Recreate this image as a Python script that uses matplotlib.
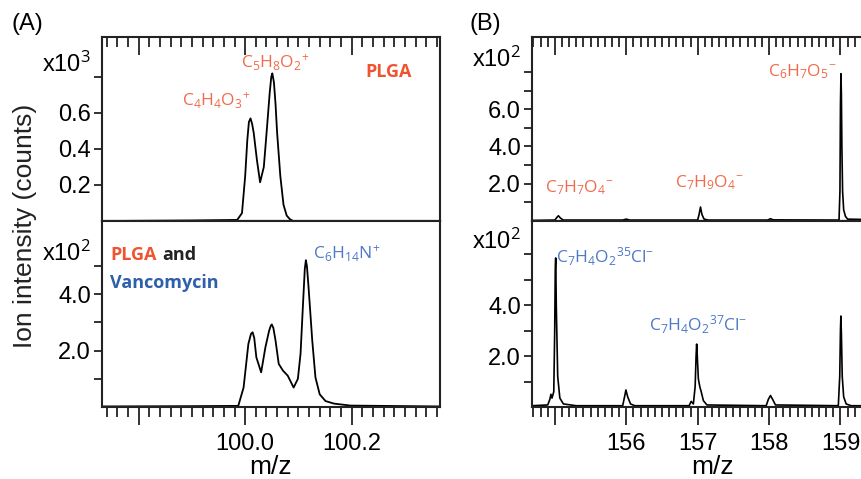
import numpy as np
import matplotlib
matplotlib.use("Agg")
import matplotlib.pyplot as plt
from matplotlib.ticker import FixedLocator, MultipleLocator, NullFormatter

plt.rcParams['font.family'] = ['Liberation Sans', 'DejaVu Sans']
plt.rcParams['mathtext.fontset'] = 'custom'
plt.rcParams['mathtext.rm'] = 'Open Sans'
plt.rcParams['mathtext.it'] = 'Open Sans:italic'
plt.rcParams['mathtext.bf'] = 'Open Sans:bold'

# ---- data ----
# (A) top: PLGA, intensity in x10^3 counts
mz_a_top = [99.731, 99.90, 99.985, 99.994, 100.000, 100.004, 100.007, 100.010,
            100.013, 100.016, 100.022, 100.028, 100.035, 100.041, 100.046,
            100.049, 100.051, 100.054, 100.057, 100.060, 100.066, 100.072,
            100.078, 100.084, 100.090, 100.366]
int_a_top = [0.0, 0.003, 0.006, 0.044, 0.25, 0.45, 0.55, 0.57,
             0.54, 0.49, 0.34, 0.215, 0.30, 0.52, 0.71,
             0.80, 0.82, 0.77, 0.65, 0.49, 0.25, 0.09,
             0.03, 0.01, 0.0, 0.0]

# (A) bottom: PLGA + vancomycin, intensity in x10^2 counts
mz_a_bot = [99.731, 99.90, 99.987, 99.997, 100.006, 100.011, 100.014, 100.017,
            100.021, 100.030, 100.038, 100.045, 100.048, 100.050, 100.053,
            100.057, 100.063, 100.071, 100.080, 100.091, 100.099, 100.104,
            100.109, 100.112, 100.114, 100.116, 100.119, 100.126, 100.132,
            100.140, 100.151, 100.167, 100.198, 100.366]
int_a_bot = [0.02, 0.03, 0.04, 0.69, 2.24, 2.60, 2.65, 2.45,
             1.76, 1.23, 2.12, 2.71, 2.88, 2.93, 2.80,
             2.36, 1.53, 1.29, 1.11, 0.69, 1.00, 1.89,
             3.79, 4.90, 5.21, 5.00, 4.26, 2.36, 1.05,
             0.45, 0.21, 0.12, 0.05, 0.02]

# (B) top: PLGA, intensity in x10^2 counts
mz_b_top = [154.68, 155.00, 155.03, 155.05, 155.08, 155.12, 155.95, 156.00,
            156.05, 157.00, 157.02, 157.04, 157.06, 157.09, 157.15, 157.98,
            158.02, 158.06, 158.98, 158.993, 159.000, 159.007, 159.013,
            159.02, 159.03, 159.045, 159.07, 159.10, 159.75]
int_b_top = [0.03, 0.05, 0.20, 0.28, 0.15, 0.05, 0.05, 0.10,
             0.05, 0.05, 0.35, 0.75, 0.35, 0.10, 0.05, 0.05,
             0.12, 0.06, 0.05, 1.6, 6.2, 7.9, 6.8,
             4.0, 1.6, 0.6, 0.25, 0.10, 0.05]

# (B) bottom: PLGA + vancomycin, intensity in x10^2 counts
mz_b_bot = [154.68, 154.90, 154.93, 154.945, 154.96, 154.985, 154.998, 155.006,
            155.012, 155.02, 155.04, 155.07, 155.12, 155.30, 155.95, 155.98,
            155.995, 156.02, 156.06, 156.12, 156.88, 156.91, 156.94, 156.965,
            156.978, 156.986, 156.995, 157.01, 157.03, 157.05, 157.08, 157.13,
            157.96, 157.99, 158.02, 158.05, 158.09, 158.97, 158.99, 159.000,
            159.006, 159.013, 159.025, 159.045, 159.08, 159.15, 159.75]
int_b_bot = [0.05, 0.08, 0.30, 0.50, 0.35, 0.60, 3.0, 5.4,
             5.85, 4.0, 1.2, 0.35, 0.12, 0.05, 0.05, 0.45,
             0.67, 0.40, 0.12, 0.05, 0.05, 0.22, 0.12, 0.80,
             2.0, 2.47, 2.0, 1.1, 0.80, 0.60, 0.25, 0.08,
             0.05, 0.30, 0.45, 0.30, 0.08, 0.05, 1.2, 3.0,
             3.57, 2.9, 1.2, 0.40, 0.12, 0.05, 0.05]

xt_a = [99.8, 100.0, 100.2]
xl_a = ['', '100.0', '100.2']
xt_b = [155, 156, 157, 158, 159]
xl_b = ['', '156', '157', '158', '159']

ORANGE = '#f26a4b'
RED = '#f0532f'
BLUE = '#4c78c6'
DBLUE = '#2d5fab'
ANN = 'Open Sans'
INK = '#222222'

fig = plt.figure(figsize=(8.62, 4.79), dpi=100)

W, H = 862.0, 479.0
def box(l, t, r, b):
    return [l / W, 1 - b / H, (r - l) / W, (b - t) / H]

ax_at = fig.add_axes(box(102, 37, 440, 221))
ax_ab = fig.add_axes(box(102, 221, 440, 407))
ax_bt = fig.add_axes(box(532, 37, 894, 221))
ax_bb = fig.add_axes(box(532, 221, 894, 407))


def xticks(axis, xt, xminor, direction):
    axis.xaxis.set_major_locator(FixedLocator(xt))
    axis.xaxis.set_minor_locator(MultipleLocator(xminor))
    axis.tick_params(axis='x', which='both', direction=direction,
                     width=1.3, color=INK, labelsize=17, pad=6)
    axis.tick_params(axis='x', which='major', length=13)
    axis.tick_params(axis='x', which='minor', length=7)


def style(ax, xlim, ylim, xt, xl, xminor, yt, yl, upper):
    ax.set_xlim(*xlim)
    ax.set_ylim(*ylim)
    for s in ax.spines.values():
        s.set_linewidth(1.5)
        s.set_color(INK)
    if upper:
        # inward ticks along the top, outward ticks below (into the panel beneath)
        xticks(ax, xt, xminor, 'in')
        ax.tick_params(axis='x', which='both', top=True, bottom=False,
                       labeltop=False, labelbottom=False)
        sec = ax.secondary_xaxis('bottom')
        xticks(sec, xt, xminor, 'out')
        sec.xaxis.set_major_formatter(NullFormatter())
        sec.spines['bottom'].set_linewidth(1.5)
        sec.spines['bottom'].set_color(INK)
    else:
        xticks(ax, xt, xminor, 'out')
        ax.set_xticklabels(xl)
        ax.tick_params(axis='x', which='both', top=False, bottom=True)
    ax.set_yticks(yt)
    ax.set_yticklabels(yl)
    ax.tick_params(axis='y', which='major', left=True, right=False, direction='out',
                   length=6, width=1.3, color=INK, labelsize=17, pad=2)
    for tk in ax.yaxis.get_major_ticks():
        if tk.label1.get_text().startswith('x10'):
            tk.label1.set_va('bottom')


ax_at.plot(mz_a_top, int_a_top, color='black', lw=1.3)
ax_ab.plot(mz_a_bot, int_a_bot, color='black', lw=1.3)
ax_bt.plot(mz_b_top, int_b_top, color='black', lw=1.2)
ax_bb.plot(mz_b_bot, int_b_bot, color='black', lw=1.2)

style(ax_at, (99.731, 100.366), (0, 1.022), xt_a, xl_a, 0.02,
      [0.2, 0.4, 0.6, 0.8], ['0.2', '0.4', '0.6', 'x10$^3$'], True)
style(ax_ab, (99.731, 100.366), (0, 6.6), xt_a, xl_a, 0.02,
      [1, 2, 3, 4, 5], ['', '2.0', '', '4.0', 'x10$^2$'], False)
style(ax_bt, (154.68, 159.75), (0, 9.87), xt_b, xl_b, 0.1,
      [1, 2, 3, 4, 5, 6, 7, 8], ['', '2.0', '', '4.0', '', '6.0', '', 'x10$^2$'], True)
style(ax_bb, (154.68, 159.75), (0, 7.3), xt_b, xl_b, 0.1,
      [1, 2, 3, 4, 5, 6], ['', '2.0', '', '4.0', '', 'x10$^2$'], False)

# annotations
fs = 12.5
ax_at.text(100.056, 0.883, r'C$_5$H$_8$O$_2$$^{\!+}$', color=ORANGE, fontsize=fs,
           family=ANN, ha='center', va='center')
ax_at.text(99.946, 0.672, r'C$_4$H$_4$O$_3$$^{\!+}$', color=ORANGE, fontsize=fs,
           family=ANN, ha='center', va='center')
ax_at.text(100.269, 0.828, 'PLGA', color=RED, fontsize=13, family=ANN,
           weight='bold', ha='center', va='center')

t1 = ax_ab.text(99.746, 5.39, 'PLGA', color=RED, fontsize=13, family=ANN,
                weight='bold', ha='left', va='center')
ax_ab.annotate('and', xy=(1, 0), xycoords=t1, xytext=(4, 0),
               textcoords='offset points', color=INK, fontsize=13,
               family=ANN, weight='bold', ha='left', va='bottom')
ax_ab.text(99.746, 4.39, 'Vancomycin', color=DBLUE, fontsize=13, family=ANN,
           weight='bold', ha='left', va='center')
ax_ab.text(100.190, 5.46, r'C$_6$H$_{14}$N$^{\!+}$', color=BLUE, fontsize=fs,
           family=ANN, ha='center', va='center')

ax_bt.text(155.336, 1.77, r'C$_7$H$_7$O$_4$$^{-}$', color=ORANGE, fontsize=fs,
           family=ANN, ha='center', va='center')
ax_bt.text(157.157, 2.04, r'C$_7$H$_9$O$_4$$^{-}$', color=ORANGE, fontsize=fs,
           family=ANN, ha='center', va='center')
ax_bt.text(158.459, 7.99, r'C$_6$H$_7$O$_5$$^{-}$', color=ORANGE, fontsize=fs,
           family=ANN, ha='center', va='center')

ax_bb.text(155.70, 5.88, r'C$_7$H$_4$O$_2$$^{35}$Cl$^{-}$', color=BLUE, fontsize=fs,
           family=ANN, ha='center', va='center')
ax_bb.text(157.0, 3.22, r'C$_7$H$_4$O$_2$$^{37}$Cl$^{-}$', color=BLUE, fontsize=fs,
           family=ANN, ha='center', va='center')

# axis labels and panel letters
ax_ab.set_xlabel('m/z', fontsize=19, labelpad=0)
ax_bb.set_xlabel('m/z', fontsize=19, labelpad=0)
fig.text(25 / W, 1 - 226 / H, 'Ion intensity (counts)', rotation=90,
         fontsize=19, ha='center', va='center', color=INK)
fig.text(27 / W, 1 - 24 / H, '(A)', fontsize=17, ha='center', va='center')
fig.text(485 / W, 1 - 24 / H, '(B)', fontsize=17, ha='center', va='center')

fig.savefig('out.png', dpi=100)
